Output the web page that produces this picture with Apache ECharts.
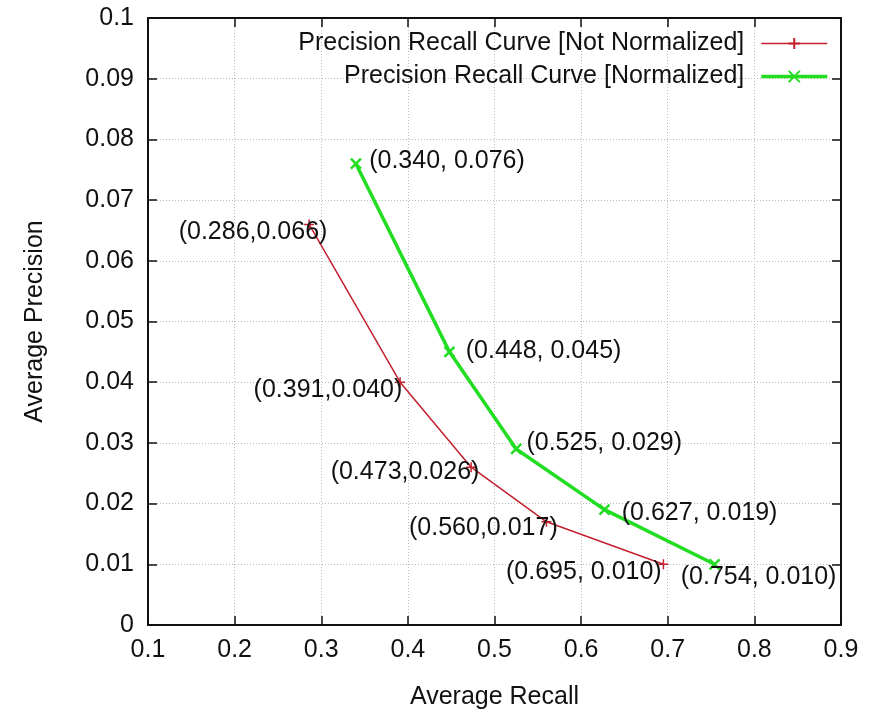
<!DOCTYPE html>
<html>
<head>
<meta charset="utf-8">
<script src="https://cdn.jsdelivr.net/npm/echarts@6/dist/echarts.min.js"></script>
<style>
  html, body { margin: 0; padding: 0; background: #fff; }
  #chart { width: 877px; height: 715px; }
</style>
</head>
<body>
<div id="chart"></div>
<script>
// values
var redRecall = [0.286, 0.391, 0.473, 0.560, 0.695];
var redPrecision = [0.066, 0.040, 0.026, 0.017, 0.010];
var redText = ['(0.286,0.066)', '(0.391,0.040)', '(0.473,0.026)', '(0.560,0.017)', '(0.695, 0.010)'];

var greenRecall = [0.340, 0.448, 0.525, 0.627, 0.754];
var greenPrecision = [0.076, 0.045, 0.029, 0.019, 0.010];
var greenText = ['(0.340, 0.076)', '(0.448, 0.045)', '(0.525, 0.029)', '(0.627, 0.019)', '(0.754, 0.010)'];

var seriesNames = ['Precision Recall Curve [Not Normalized]', 'Precision Recall Curve [Normalized]'];

// label placement (styles, kept apart from data)
var redLabelOffset = [[24, 8], [8, 8], [14, 5], [17, 6], [4, 8]];
var greenLabelOffset = [[7, -3], [10, -1], [4, -6], [11, 3], [-40, 13]];

var FONT = '"Liberation Sans Narrow", "Liberation Sans", Arial, sans-serif';
var plusPath = 'path://M5,0 L5,10 M0,5 L10,5';
var crossPath = 'path://M0,0 L10,10 M10,0 L0,10';

var RED = '#c4202e';
var GREEN = '#22dd22';

function buildPoints(xs, ys, texts, offsets, pos) {
    return xs.map(function (x, i) {
        return {
            value: [x, ys[i]],
            label: {
                show: true,
                formatter: texts[i],
                position: pos,
                distance: 0,
                offset: offsets[i]
            }
        };
    });
}

var labelStyle = { color: '#111', fontSize: 25, fontFamily: FONT };
var gridLine = { show: true, lineStyle: { color: '#bbb', type: [1, 2], width: 1 } };
var axisLine = { show: true, onZero: false, lineStyle: { color: '#111', width: 2 } };
var tick = { show: true, inside: true, length: 9, lineStyle: { color: '#111', width: 1.5 } };

var option = {
    animation: false,
    backgroundColor: '#fff',
    grid: { left: 148, right: 36, top: 18, bottom: 89 },
    legend: {
        orient: 'vertical',
        right: 43,
        top: 26,
        align: 'right',
        itemWidth: 66,
        itemHeight: 14,
        itemGap: 8,
        textStyle: { color: '#111', fontSize: 25, fontFamily: FONT, padding: [0, 12, 0, 0] },
        data: [
            { name: seriesNames[0], lineStyle: { width: 1.5, color: RED } },
            { name: seriesNames[1], lineStyle: { width: 3.5, color: GREEN } }
        ]
    },
    xAxis: [{
        type: 'value', min: 0.1, max: 0.9, interval: 0.1,
        name: 'Average Recall', nameLocation: 'middle', nameGap: 60,
        nameTextStyle: labelStyle,
        axisLine: axisLine, axisTick: tick, splitLine: gridLine,
        axisLabel: { color: '#111', fontSize: 25, fontFamily: FONT, margin: 13,
            formatter: function (v) { return v.toFixed(1); } }
    }, {
        type: 'value', min: 0.1, max: 0.9, interval: 0.1, position: 'top',
        axisLine: axisLine, axisTick: tick, splitLine: { show: false }, axisLabel: { show: false }
    }],
    yAxis: [{
        type: 'value', min: 0, max: 0.1, interval: 0.01,
        name: 'Average Precision', nameLocation: 'middle', nameGap: 100, nameRotate: 90,
        nameTextStyle: labelStyle,
        axisLine: axisLine, axisTick: tick, splitLine: gridLine,
        axisLabel: { color: '#111', fontSize: 25, fontFamily: FONT, margin: 14,
            formatter: function (v) { return v === 0 ? '0' : String(+v.toFixed(2)); } }
    }, {
        type: 'value', min: 0, max: 0.1, interval: 0.01, position: 'right',
        axisLine: axisLine, axisTick: tick, splitLine: { show: false }, axisLabel: { show: false }
    }],
    series: [{
        name: seriesNames[0],
        type: 'line',
        data: buildPoints(redRecall, redPrecision, redText, redLabelOffset, 'left'),
        symbol: plusPath,
        symbolSize: 10,
        lineStyle: { color: RED, width: 1.5 },
        itemStyle: { color: RED, borderColor: RED, borderWidth: 1.5 },
        label: labelStyle,
        z: 3
    }, {
        name: seriesNames[1],
        type: 'line',
        data: buildPoints(greenRecall, greenPrecision, greenText, greenLabelOffset, 'right'),
        symbol: crossPath,
        symbolSize: 10,
        lineStyle: { color: GREEN, width: 3.5 },
        itemStyle: { color: GREEN, borderColor: GREEN, borderWidth: 2.5 },
        label: labelStyle,
        z: 4
    }]
};

var myChart = echarts.init(document.getElementById('chart'));
myChart.setOption(option);
</script>
</body>
</html>
